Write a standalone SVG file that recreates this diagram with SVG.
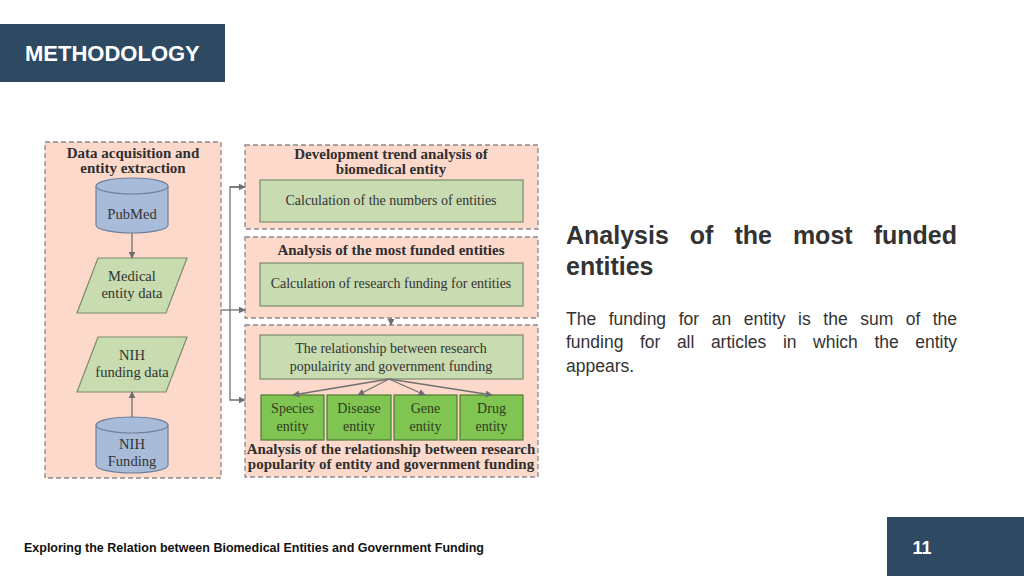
<svg xmlns="http://www.w3.org/2000/svg" width="1024" height="576" viewBox="0 0 1024 576">
<defs>
<marker id="arr" viewBox="0 0 10 10" refX="9" refY="5" markerWidth="7" markerHeight="7" markerUnits="userSpaceOnUse" orient="auto">
<path d="M0,0 L10,5 L0,10 z" fill="#6e6e6e"/>
</marker>
<style>
.panel{fill:#fcd9cb;stroke:#8a8a8a;stroke-width:1.3;stroke-dasharray:5 3}
.box{fill:#c9dbb1;stroke:#7c8c6c;stroke-width:1.2}
.ent{fill:#80c452;stroke:#4f7a35;stroke-width:1.2}
.cyl{fill:#a8bbd8;stroke:#6f809c;stroke-width:1.2}
.par{fill:#c8dcb0;stroke:#7c8c6c;stroke-width:1.2}
.ttl{font-family:"Liberation Serif",serif;font-weight:bold;font-size:15px;fill:#2f2f2f;text-anchor:middle}
.lbl{font-family:"Liberation Serif",serif;font-size:14.6px;fill:#333;text-anchor:middle}
.ilbl{font-family:"Liberation Serif",serif;font-size:14px;fill:#333;text-anchor:middle}
.elbl{font-family:"Liberation Serif",serif;font-size:14px;fill:#2f3b20;text-anchor:middle}
.con{fill:none;stroke:#707070;stroke-width:1.3}
.h{font-family:"Liberation Sans",Arial,sans-serif;font-weight:bold;font-size:25px;fill:#333}
.b{font-family:"Liberation Sans",Arial,sans-serif;font-size:17.5px;fill:#333}
</style>
</defs>
<rect width="1024" height="576" fill="#ffffff"/>

<g id="header">
<rect x="0" y="24" width="225" height="58" fill="#2e4a63"/>
<text x="25" y="61" font-family="Liberation Sans,Arial,sans-serif" font-weight="bold" font-size="22" fill="#ffffff">METHODOLOGY</text>
</g>

<g id="panel-acquisition">
<rect class="panel" x="45" y="142" width="176" height="336"/>
<text class="ttl" x="133" y="158">Data acquisition and</text>
<text class="ttl" x="133" y="173">entity extraction</text>
</g>
<g id="pubmed">
<path class="cyl" d="M96,186 L96,225 A36,8 0 0 0 168,225 L168,186"/>
<ellipse class="cyl" cx="132" cy="186" rx="36" ry="8"/>
<text class="lbl" x="132" y="219">PubMed</text>
</g>
<g id="medical-entity-data">
<polygon class="par" points="98,258 187,258 166,313 77,313"/>
<text class="lbl" x="132" y="281">Medical</text>
<text class="lbl" x="132" y="298">entity data</text>
</g>
<g id="nih-funding-data">
<polygon class="par" points="98,337 187,337 166,392 77,392"/>
<text class="lbl" x="132" y="360">NIH</text>
<text class="lbl" x="132" y="377">funding data</text>
</g>
<g id="nih-funding">
<path class="cyl" d="M96,425 L96,465 A36,8 0 0 0 168,465 L168,425"/>
<ellipse class="cyl" cx="132" cy="425" rx="36" ry="8"/>
<text class="lbl" x="132" y="449">NIH</text>
<text class="lbl" x="132" y="466">Funding</text>
</g>

<g id="panel-trend">
<rect class="panel" x="245" y="145" width="293" height="84"/>
<text class="ttl" x="391" y="159">Development trend analysis of</text>
<text class="ttl" x="391" y="174">biomedical entity</text>
<rect class="box" x="260" y="180" width="263" height="42"/>
<text class="ilbl" x="391" y="205">Calculation of the numbers of entities</text>
</g>

<g id="panel-funded">
<rect class="panel" x="245" y="237" width="293" height="81"/>
<text class="ttl" x="391" y="255">Analysis of the most funded entities</text>
<rect class="box" x="260" y="263" width="263" height="43"/>
<text class="ilbl" x="391" y="288">Calculation of research funding for entities</text>
</g>

<g id="panel-relationship">
<rect class="panel" x="245" y="325" width="293" height="152"/>
<rect class="box" x="260" y="335" width="263" height="44"/>
<text class="ilbl" x="391" y="353">The relationship between research</text>
<text class="ilbl" x="391" y="371">populairity and government funding</text>
<text class="ttl" x="391" y="454">Analysis of the relationship between research</text>
<text class="ttl" x="391" y="469">popularity of entity and government funding</text>
</g>
<g id="species">
<rect class="ent" x="261" y="395" width="63" height="45"/>
<text class="elbl" x="292.5" y="413">Species</text>
<text class="elbl" x="292.5" y="431">entity</text>
</g>
<g id="disease">
<rect class="ent" x="327" y="395" width="64" height="45"/>
<text class="elbl" x="359" y="413">Disease</text>
<text class="elbl" x="359" y="431">entity</text>
</g>
<g id="gene">
<rect class="ent" x="394" y="395" width="63" height="45"/>
<text class="elbl" x="425.5" y="413">Gene</text>
<text class="elbl" x="425.5" y="431">entity</text>
</g>
<g id="drug">
<rect class="ent" x="460" y="395" width="63" height="45"/>
<text class="elbl" x="491.5" y="413">Drug</text>
<text class="elbl" x="491.5" y="431">entity</text>
</g>

<g id="connectors">
<line class="con" x1="132" y1="233" x2="132" y2="258" marker-end="url(#arr)"/>
<line class="con" x1="132" y1="417" x2="132" y2="392" marker-end="url(#arr)"/>
<line class="con" x1="221" y1="310" x2="245" y2="310" marker-end="url(#arr)"/>
<polyline class="con" points="245,187 230,187 230,400 245,400" marker-end="url(#arr)"/>
<line class="con" x1="230" y1="187" x2="245" y2="187" marker-end="url(#arr)"/>
<line class="con" x1="391" y1="318" x2="391" y2="325" marker-end="url(#arr)"/>
<line class="con" x1="389" y1="379" x2="293" y2="395" marker-end="url(#arr)"/>
<line class="con" x1="389" y1="379" x2="358" y2="395" marker-end="url(#arr)"/>
<line class="con" x1="389" y1="379" x2="425" y2="395" marker-end="url(#arr)"/>
<line class="con" x1="389" y1="379" x2="492" y2="395" marker-end="url(#arr)"/>
</g>

<g id="description">
<text class="h" y="244"><tspan x="566">Analysis</tspan><tspan x="689.8">of</tspan><tspan x="734.4">the</tspan><tspan x="792.9">most</tspan><tspan x="957" text-anchor="end">funded</tspan></text>
<text class="h" x="566" y="275">entities</text>
<text class="b" y="325"><tspan x="566">The</tspan><tspan x="608.7">funding</tspan><tspan x="678.7">for</tspan><tspan x="711.7">an</tspan><tspan x="743.7">entity</tspan><tspan x="798.1">is</tspan><tspan x="823.3">the</tspan><tspan x="860.2">sum</tspan><tspan x="905.8">of</tspan><tspan x="957" text-anchor="end">the</tspan></text>
<text class="b" y="348"><tspan x="566">funding</tspan><tspan x="639.9">for</tspan><tspan x="676.9">all</tspan><tspan x="710.9">articles</tspan><tspan x="782.9">in</tspan><tspan x="813.1">which</tspan><tspan x="874.4">the</tspan><tspan x="957" text-anchor="end">entity</tspan></text>
<text class="b" x="566" y="372">appears.</text>
</g>

<g id="footer">
<text x="24" y="552" font-family="Liberation Sans,Arial,sans-serif" font-weight="bold" font-size="12" fill="#111" textLength="460" lengthAdjust="spacingAndGlyphs">Exploring the Relation between Biomedical Entities and Government Funding</text>
<rect x="887" y="517" width="137" height="59" fill="#2e4a63"/>
<text x="922" y="554" font-family="Liberation Sans,Arial,sans-serif" font-weight="bold" font-size="18" fill="#ffffff" text-anchor="middle">11</text>
</g>
</svg>
